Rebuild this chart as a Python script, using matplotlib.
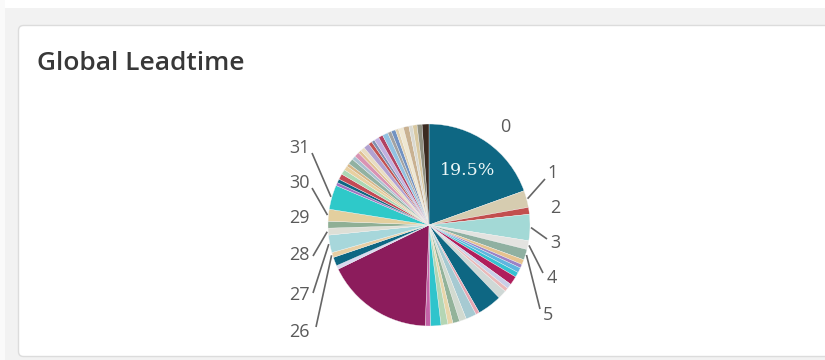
import matplotlib
matplotlib.use('Agg')
import matplotlib.pyplot as plt
from matplotlib.patches import FancyBboxPatch, Rectangle
import numpy as np

# share of each leadtime bucket (percent), clockwise from 12 o'clock
categories = [str(i) for i in range(58)]
shares = [19.5, 2.7, 1.1, 4.2, 1.4, 1.7, 0.8, 0.6, 0.8, 0.8,
          1.4, 0.8, 0.6, 1.4, 3.9, 0.6, 1.7, 1.1, 1.1, 0.8,
          1.1, 1.7, 0.8, 17.2, 0.6, 1.4, 0.8, 2.8, 1.1, 1.1,
          1.9, 3.9,
          0.5, 0.6, 0.9, 0.8, 0.7, 0.5, 0.9, 0.6, 0.8, 0.5,
          0.7, 0.9, 0.6, 0.5, 0.8, 0.7, 0.9, 0.6, 0.7, 0.5,
          0.8, 0.9, 0.6, 0.7, 0.8, 1.1]
colors = ['#0e6783', '#d6ccb0', '#c24f4f', '#a3d9d6', '#e3e3e0', '#8fb0a1', '#e6c38f', '#9c82c6',
          '#5fb6e0', '#35c2d2', '#b01e5c', '#c9cfe8', '#eab9b9', '#cfd8d6', '#0e6783', '#e6a8b4',
          '#a6cad2', '#d2dad0', '#93b39a', '#e8d6aa', '#b4d6b4', '#2fc4cc', '#c462a8', '#8c1c5c',
          '#d9d9f0', '#0e6783', '#e8cfa4', '#a7d7db', '#dedfd6', '#8faf95', '#e3cf9e', '#2ec9c9',
          '#9f72c2', '#0e6783', '#c44a55', '#acd8b4', '#e8d0a0', '#d8b888', '#91b1a1', '#a9c1d1',
          '#d993b3', '#e1c192', '#e9ddc1', '#b1a1d1', '#c25252', '#8191b1', '#c1b1e1', '#b24262',
          '#92c2e2', '#a2a2a2', '#7292c2', '#e1d1b1', '#efe7d1', '#c9b191', '#d9d9d1', '#d9c9a1',
          '#919181', '#3b2b21']

# labels that survive in the chart and where they sit (pixels), plus connector end
label_pos = {0: (505, 127, 'center', None), 1: (547, 173, 'left', (545, 179)),
             2: (550, 208, 'left', None), 3: (550, 243, 'left', (547, 239)),
             4: (547, 278, 'left', (543, 273)), 5: (543, 315, 'left', (540, 309)),
             26: (310, 332, 'right', (316, 327)), 27: (310, 295, 'right', (313, 293)),
             28: (310, 255, 'right', (313, 256)), 29: (310, 218, 'right', None),
             30: (310, 183, 'right', (312, 188)), 31: (310, 148, 'right', (312, 153))}

W, H = 825, 360
cx, cy, R = 429, 225, 101

fig = plt.figure(figsize=(W / 100, H / 100), dpi=100)
fig.patch.set_facecolor('#f2f2f2')

# background / card
bg = fig.add_axes([0, 0, 1, 1])
bg.set_xlim(0, W)
bg.set_ylim(H, 0)
bg.axis('off')
bg.add_patch(Rectangle((0, 0), W, 8, facecolor='white', edgecolor='none'))
bg.add_patch(Rectangle((0, 0), 5, H, facecolor='#fafafa', edgecolor='none'))
bg.add_patch(FancyBboxPatch((18.5, 25.5), 830, 331, boxstyle='round,pad=0,rounding_size=5',
                            facecolor='white', edgecolor='#dcdcdc', linewidth=1))
bg.text(37, 63, 'Global Leadtime', fontsize=19, fontfamily='Open Sans', fontweight='semibold',
        color='#383838', va='center', ha='left')

# pie axes, 1 data unit = R pixels
half_w, half_h = 200, 130
ax = fig.add_axes([(cx - half_w) / W, (H - cy - half_h) / H, 2 * half_w / W, 2 * half_h / H])

wedges, _, pcts = ax.pie(shares, colors=colors, startangle=90, counterclock=False, radius=1,
                         autopct=lambda p: f'{p:.1f}%' if p > 19 else '', pctdistance=0.66,
                         wedgeprops=dict(edgecolor='#f4f4f4', linewidth=0.25),
                         textprops=dict(color='#eaf6f6', fontsize=12.5, fontfamily='DejaVu Serif'))
ax.set_xlim(-half_w / R, half_w / R)
ax.set_ylim(-half_h / R, half_h / R)
ax.axis('off')

def px(x, y):
    return (x - cx) / R, (cy - y) / R

total = sum(shares)
start = 0.0
for i, s in enumerate(shares):
    mid = start + s / 2
    start += s
    if i not in label_pos:
        continue
    lx, ly, ha, conn = label_pos[i]
    tx, ty = px(lx, ly)
    ax.text(tx, ty, categories[i], fontsize=13, fontfamily='Open Sans', color='#5a5a5a',
            ha=ha, va='center')
    if conn is not None:
        ang = np.deg2rad(90 - mid / total * 360)
        ex, ey = px(*conn)
        ax.plot([1.01 * np.cos(ang), ex], [1.01 * np.sin(ang), ey], color='#666666', lw=1.2,
                solid_capstyle='butt')

fig.savefig('out.png', dpi=100, facecolor=fig.get_facecolor())
